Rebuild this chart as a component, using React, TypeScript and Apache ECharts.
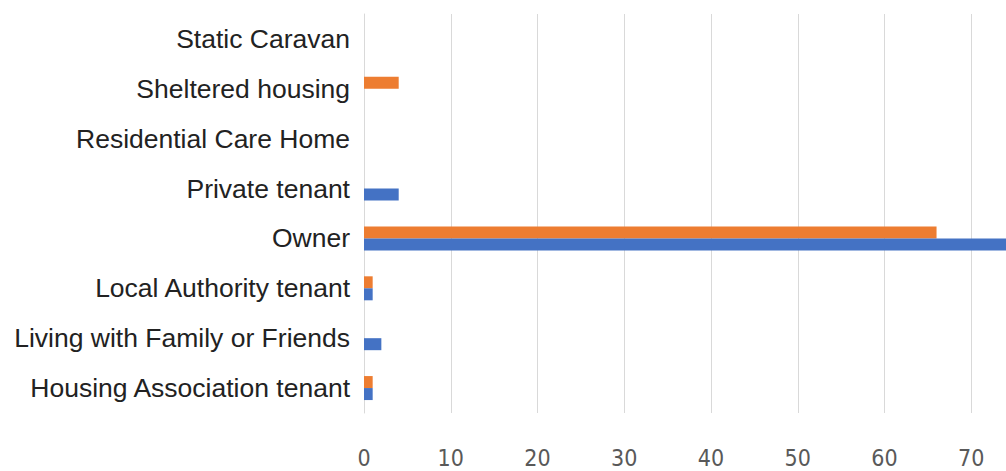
import React, { useEffect, useRef } from "react";
import * as echarts from "echarts";

const categories = [
  "Housing Association tenant",
  "Living with Family or Friends",
  "Local Authority tenant",
  "Owner",
  "Private tenant",
  "Residential Care Home",
  "Sheltered housing",
  "Static Caravan",
];
const blueValues = [1, 2, 1, 75, 4, 0, 0, 0];
const orangeValues = [1, 0, 1, 66, 0, 0, 4, 0];

export default function App() {
  const ref = useRef<HTMLDivElement>(null);
  useEffect(() => {
    if (!ref.current) return;
    const chart = echarts.init(ref.current, null, { renderer: "svg" });
    chart.setOption({
      animation: false,
      backgroundColor: "#ffffff",
      grid: {
        left: 364,
        right: 2,
        top: 14,
        bottom: 58,
        containLabel: false,
        outerBoundsMode: "none",
      },
      xAxis: {
        type: "value",
        min: 0,
        max: 80,
        interval: 10,
        axisLine: { show: false },
        axisTick: { show: false },
        splitLine: { show: true, lineStyle: { color: "#d9d9d9", width: 1 } },
        axisLabel: {
          margin: 33,
          showMaxLabel: false,
          fontFamily: "DejaVu Sans Condensed, Liberation Sans Narrow, Roboto, sans-serif",
          fontSize: 23,
          color: "#595959",
        },
      },
      yAxis: {
        type: "category",
        data: categories,
        axisLine: { show: true, lineStyle: { color: "#d9d9d9", width: 1 } },
        axisTick: { show: false },
        axisLabel: {
          margin: 14,
          fontFamily: "Liberation Sans, Arial, sans-serif",
          fontSize: 26.5,
          color: "#222222",
        },
      },
      series: [
        {
          type: "bar",
          data: orangeValues,
          barWidth: 12,
          barGap: "0%",
          itemStyle: { color: "#ED7D31" },
        },
        {
          type: "bar",
          data: blueValues,
          barWidth: 12,
          barGap: "0%",
          itemStyle: { color: "#4472C4" },
        },
      ],
    });
    return () => chart.dispose();
  }, []);
  return (
    <div
      ref={ref}
      style={{ position: "fixed", left: 0, top: 0, width: 1060, height: 471 }}
    />
  );
}
